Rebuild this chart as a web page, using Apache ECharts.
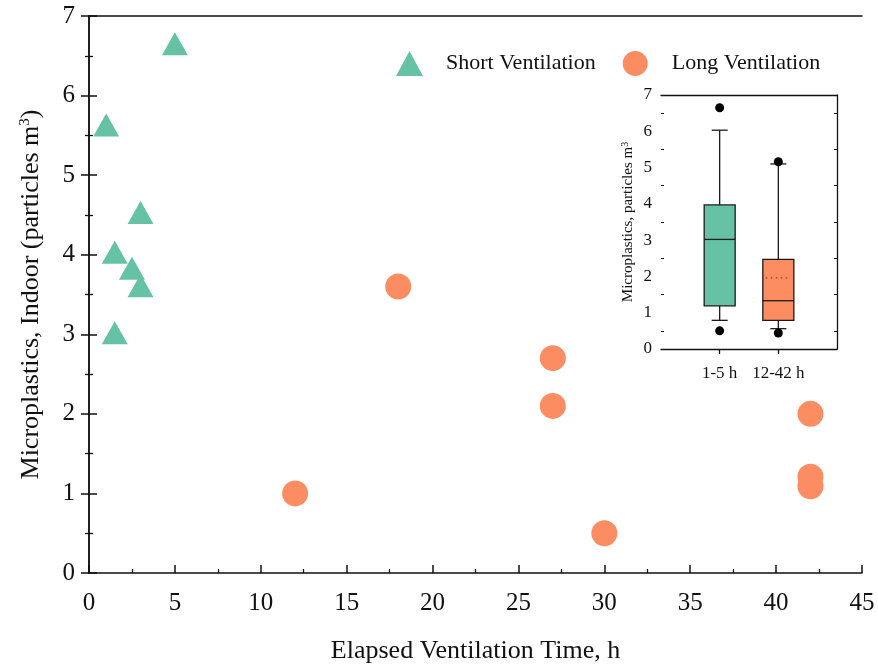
<!DOCTYPE html>
<html>
<head>
<meta charset="utf-8">
<title>Microplastics vs ventilation time</title>
<script src="https://cdn.jsdelivr.net/npm/echarts@6/dist/echarts.min.js"></script>
<style>
  html, body { margin: 0; padding: 0; background: #fff; }
  #chart { width: 878px; height: 666px; }
</style>
</head>
<body>
<div id="chart"></div>
<script>
// main scatter data: [hours, particles m3]
var shortVent = [[5, 6.65], [1, 5.63], [3, 4.53], [1.5, 4.03], [2.5, 3.83], [3, 3.61], [1.5, 3.02]]
var longVent = [[12, 1.0], [18, 3.6], [27, 2.7], [27, 2.1], [30, 0.5], [42, 2.0], [42, 1.21], [42, 1.09]]

// inset box plot: categories padded with blanks so boxes sit at 1/3 and 2/3
var boxCats = ['', '1-5 h', '12-42 h', '']
// [category index, whisker low, Q1, median, Q3, whisker high]
var boxStats = [[1, 0.79, 1.19, 3.02, 3.97, 6.03], [2, 0.56, 0.79, 1.33, 2.47, 5.10]]
var boxMeans = [null, 1.96]
var boxOutliers = [[1, 6.65], [1, 0.5], [2, 5.16], [2, 0.44]]

var green = '#66C2A5'
var orange = '#FC8D62'
var font = 'Liberation Serif'
var boxColors = [green, orange]

var chart = echarts.init(document.getElementById('chart'))

function renderBox (params, api) {
  var i = params.dataIndex
  var x = api.value(0)
  var lo = api.coord([x, api.value(1)])
  var q1 = api.coord([x, api.value(2)])
  var med = api.coord([x, api.value(3)])
  var q3 = api.coord([x, api.value(4)])
  var hi = api.coord([x, api.value(5)])
  var hw = 15.5 // half box width
  var cw = 8 // half cap width
  var cx = med[0]
  var line = { stroke: '#1a1a1a', lineWidth: 1.3 }
  var children = [
    { type: 'line', shape: { x1: cx, y1: q3[1], x2: cx, y2: hi[1] }, style: line },
    { type: 'line', shape: { x1: cx - cw, y1: hi[1], x2: cx + cw, y2: hi[1] }, style: line },
    { type: 'line', shape: { x1: cx, y1: q1[1], x2: cx, y2: lo[1] }, style: line },
    { type: 'line', shape: { x1: cx - cw, y1: lo[1], x2: cx + cw, y2: lo[1] }, style: line },
    { type: 'rect', shape: { x: cx - hw, y: q3[1], width: hw * 2, height: q1[1] - q3[1] }, style: { fill: boxColors[i], stroke: '#1a1a1a', lineWidth: 1.3 } },
    { type: 'line', shape: { x1: cx - hw, y1: med[1], x2: cx + hw, y2: med[1] }, style: line }
  ]
  if (boxMeans[i] != null) {
    var mp = api.coord([x, boxMeans[i]])
    children.push({ type: 'line', shape: { x1: cx - hw + 3, y1: mp[1], x2: cx + hw - 3, y2: mp[1] }, style: { stroke: '#7a2a10', lineWidth: 1, lineDash: [1.5, 3.5] } })
  }
  return { type: 'group', children: children }
}

// shared pieces for the boxed axes
var mainTick = { inside: true, length: 8, lineStyle: { color: '#111', width: 1.5 } }
var mainMinor = { show: true, splitNumber: 2, length: 4, lineStyle: { color: '#111', width: 1.3 } }
var insetTick = { inside: true, length: 5, lineStyle: { color: '#111', width: 1.2 } }
var insetMinor = { show: true, splitNumber: 2, length: 3, lineStyle: { color: '#111', width: 1 } }

chart.setOption({
  animation: false,
  textStyle: { fontFamily: font },
  legend: {
    data: [
      { name: 'Short Ventilation', icon: 'triangle' },
      { name: 'Long Ventilation', icon: 'circle' }
    ],
    left: 391,
    top: 46,
    itemWidth: 27,
    itemHeight: 25,
    itemGap: 27,
    textStyle: { fontFamily: font, fontSize: 22, color: '#111', padding: [0, 0, 0, 18] }
  },
  grid: [
    { left: 89, right: 16, top: 16, bottom: 93, outerBoundsMode: 'none' },
    { left: 661, right: 41, top: 95, bottom: 317, outerBoundsMode: 'none', show: true, backgroundColor: '#fff', borderWidth: 0 }
  ],
  xAxis: [
    {
      type: 'value',
      gridIndex: 0,
      min: 0,
      max: 45,
      interval: 5,
      name: 'Elapsed Ventilation Time, h',
      nameLocation: 'middle',
      nameGap: 65,
      nameTextStyle: { fontFamily: font, fontSize: 26, color: '#111' },
      axisLine: { lineStyle: { color: '#111', width: 1.5 } },
      axisTick: mainTick,
      minorTick: mainMinor,
      axisLabel: { fontFamily: font, fontSize: 25, color: '#111', margin: 18 },
      splitLine: { show: false }
    },
    {
      type: 'value',
      gridIndex: 0,
      position: 'top',
      min: 0,
      max: 45,
      axisLine: { show: true, onZero: false, lineStyle: { color: '#111', width: 1.5 } },
      axisTick: { show: false },
      axisLabel: { show: false },
      splitLine: { show: false }
    },
    {
      type: 'category',
      gridIndex: 1,
      data: boxCats,
      boundaryGap: false,
      axisLine: { lineStyle: { color: '#111', width: 1.3 } },
      axisTick: {
        length: 5,
        interval: function (idx, val) { return val !== '' },
        lineStyle: { color: '#111', width: 1.3 }
      },
      axisLabel: { fontFamily: font, fontSize: 17, color: '#111', margin: 16, interval: 0 },
      splitLine: { show: false }
    },
    {
      type: 'category',
      gridIndex: 1,
      position: 'top',
      data: boxCats,
      boundaryGap: false,
      axisLine: { show: true, onZero: false, lineStyle: { color: '#111', width: 1.3 } },
      axisTick: { show: false },
      axisLabel: { show: false },
      splitLine: { show: false }
    }
  ],
  yAxis: [
    {
      type: 'value',
      gridIndex: 0,
      min: 0,
      max: 7,
      interval: 1,
      name: '{a|Microplastics, Indoor (particles m}{s|3}{a|)}',
      nameLocation: 'middle',
      nameGap: 45,
      nameTextStyle: {
        rich: {
          a: { fontFamily: font, fontSize: 26, color: '#111', lineHeight: 26, verticalAlign: 'bottom' },
          s: { fontFamily: font, fontSize: 15, color: '#111', lineHeight: 26, verticalAlign: 'top' }
        }
      },
      axisLine: { lineStyle: { color: '#111', width: 1.5 } },
      axisTick: mainTick,
      minorTick: mainMinor,
      axisLabel: { fontFamily: font, fontSize: 25, color: '#111', margin: 14 },
      splitLine: { show: false }
    },
    {
      type: 'value',
      gridIndex: 0,
      position: 'right',
      min: 0,
      max: 7,
      interval: 1,
      axisLine: { show: true, lineStyle: { color: '#111', width: 1.5 } },
      axisTick: mainTick,
      minorTick: mainMinor,
      axisLabel: { show: false },
      splitLine: { show: false }
    },
    {
      type: 'value',
      gridIndex: 1,
      min: 0,
      max: 7,
      interval: 1,
      name: '{a|Microplastics, particles m}{s|3}',
      nameLocation: 'middle',
      nameGap: 25,
      nameTextStyle: {
        rich: {
          a: { fontFamily: font, fontSize: 15, color: '#111', lineHeight: 16, verticalAlign: 'bottom' },
          s: { fontFamily: font, fontSize: 10, color: '#111', lineHeight: 16, verticalAlign: 'top' }
        }
      },
      axisLine: { lineStyle: { color: '#111', width: 1.3 } },
      axisTick: insetTick,
      minorTick: insetMinor,
      axisLabel: { fontFamily: font, fontSize: 17, color: '#111', margin: 9 },
      splitLine: { show: false }
    },
    {
      type: 'value',
      gridIndex: 1,
      position: 'right',
      min: 0,
      max: 7,
      interval: 1,
      axisLine: { show: true, lineStyle: { color: '#111', width: 1.3 } },
      axisTick: insetTick,
      minorTick: insetMinor,
      axisLabel: { show: false },
      splitLine: { show: false }
    }
  ],
  series: [
    {
      name: 'Short Ventilation',
      type: 'scatter',
      xAxisIndex: 0,
      yAxisIndex: 0,
      symbol: 'triangle',
      symbolSize: [26, 23],
      itemStyle: { color: green, opacity: 1 },
      data: shortVent
    },
    {
      name: 'Long Ventilation',
      type: 'scatter',
      xAxisIndex: 0,
      yAxisIndex: 0,
      symbol: 'circle',
      symbolSize: 26,
      itemStyle: { color: orange, opacity: 1 },
      data: longVent
    },
    {
      name: 'box',
      type: 'custom',
      xAxisIndex: 2,
      yAxisIndex: 2,
      renderItem: renderBox,
      encode: { x: 0, y: [1, 2, 3, 4, 5] },
      data: boxStats,
      z: 3
    },
    {
      name: 'outliers',
      type: 'scatter',
      xAxisIndex: 2,
      yAxisIndex: 2,
      symbol: 'circle',
      symbolSize: 9,
      itemStyle: { color: '#000', opacity: 1 },
      data: boxOutliers,
      z: 4
    }
  ]
})
</script>
</body>
</html>
